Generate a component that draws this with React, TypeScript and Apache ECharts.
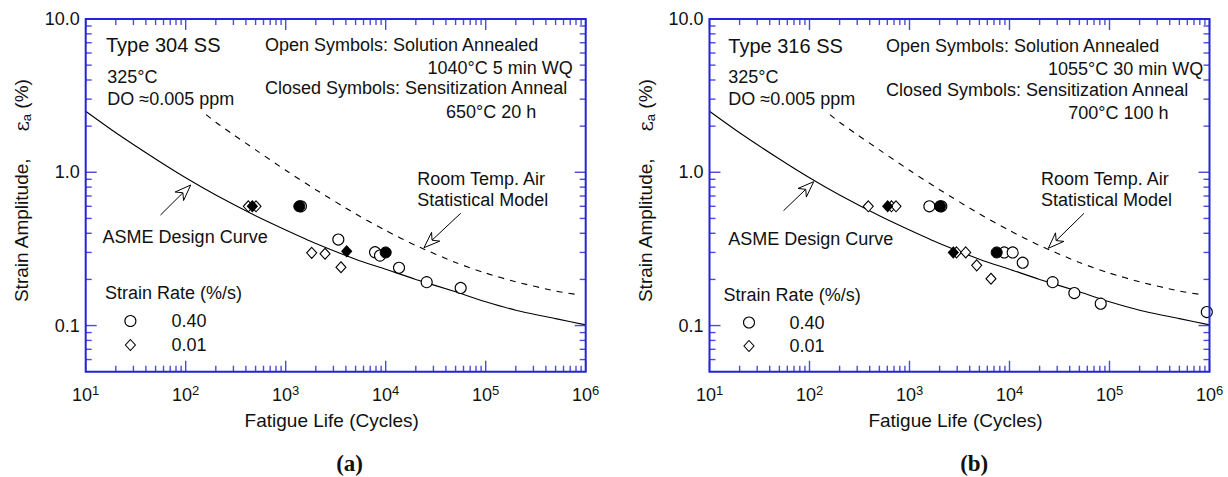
import React, { useEffect, useRef } from "react";
import * as echarts from "echarts";

// ---- Curves (both panels) ----
const asmeCycles = [10, 20, 50, 100, 200, 500, 1000, 2000, 5000, 10000, 20000, 50000, 100000, 200000, 500000, 1000000];
const asmeStrain = [2.5, 1.81, 1.22, 0.92, 0.71, 0.52, 0.42, 0.343, 0.271, 0.233, 0.2, 0.166, 0.143, 0.126, 0.111, 0.101];
const airCycles = [160, 200, 300, 500, 1000, 2000, 5000, 10000, 20000, 50000, 100000, 200000, 500000, 850000];
const airStrain = [2.38, 2.12, 1.76, 1.4, 1.03, 0.77, 0.535, 0.417, 0.333, 0.258, 0.22, 0.193, 0.168, 0.159];

// ---- Panel (a): Type 304 SS ----
const aOpenCircleCycles = [1420, 3360, 7820, 8770, 13590, 25700, 56200];
const aOpenCircleStrain = [0.6, 0.364, 0.301, 0.286, 0.238, 0.192, 0.176];
const aClosedCircleCycles = [1368, 10000];
const aClosedCircleStrain = [0.6, 0.3];
const aOpenDiamondCycles = [423, 505, 1820, 2474, 3570];
const aOpenDiamondStrain = [0.6, 0.6, 0.298, 0.294, 0.24];
const aClosedDiamondCycles = [464, 4074];
const aClosedDiamondStrain = [0.6, 0.305];

// ---- Panel (b): Type 316 SS ----
const bOpenCircleCycles = [1580, 2080, 8860, 10760, 13550, 27000, 44500, 81700, 940000];
const bOpenCircleStrain = [0.6, 0.6, 0.3, 0.3, 0.257, 0.192, 0.163, 0.139, 0.1225];
const bClosedCircleCycles = [2018, 7450];
const bClosedCircleStrain = [0.6, 0.3];
const bOpenDiamondCycles = [387, 660, 733, 2950, 3650, 4700, 6530];
const bOpenDiamondStrain = [0.6, 0.6, 0.6, 0.3, 0.3, 0.247, 0.202];
const bClosedDiamondCycles = [605, 2742];
const bClosedDiamondStrain = [0.6, 0.3];

// ---- Axis ticks / labels ----
const xDecades = [10, 100, 1000, 10000, 100000, 1000000];
const xDecadeExponents = ["1", "2", "3", "4", "5", "6"];
const yDecades = [0.1, 1, 10];
const yTickLabels = ["0.1", "1.0", "10.0"];
const minorDecadesX = [10, 100, 1000, 10000, 100000];
const minorDecadesY = [0.01, 0.1, 1];
const minorMultipliers = [2, 3, 4, 5, 6, 7, 8, 9];
const yMin = 0.05;
const yMax = 10;

const FONT = "'Liberation Sans', Arial, Helvetica, sans-serif";
const BOX_BLUE = "#2424d2";
const TICK_BLUE = "#4b4be0";
const INK = "#111";

const zip = (xs: number[], ys: number[]) => xs.map((x, i) => [x, ys[i]]);

const grids = [
  { left: 85.7, top: 19, width: 500, height: 352.7 },
  { left: 709.5, top: 19, width: 500, height: 352.7 },
];

function xAxis(gi: number) {
  return {
    type: "log",
    logBase: 10,
    gridIndex: gi,
    min: 10,
    max: 1000000,
    axisLine: { show: false },
    axisTick: { show: false },
    splitLine: { show: false },
    axisLabel: {
      margin: 12,
      hideOverlap: false,
      formatter: (v: number) => {
        const i = xDecades.findIndex((d) => Math.abs(v - d) / d < 1e-6);
        return i < 0 ? "" : `{b|10}{s|${xDecadeExponents[i]}}`;
      },
      rich: {
        b: { fontSize: 18, lineHeight: 22, fontFamily: FONT, color: INK },
        s: { fontSize: 13, lineHeight: 13, verticalAlign: "top", fontFamily: FONT, color: INK },
      },
    },
    name: "Fatigue Life (Cycles)",
    nameLocation: "middle",
    nameGap: 38,
    nameTextStyle: { fontSize: 19, fontFamily: FONT, color: INK, lineHeight: 22, padding: [0, 8, 0, 0] },
  };
}

function yAxis(gi: number) {
  return {
    type: "log",
    logBase: 10,
    gridIndex: gi,
    min: yMin,
    max: yMax,
    axisLine: { show: false },
    axisTick: { show: false },
    splitLine: { show: false },
    axisLabel: {
      margin: 6,
      fontSize: 18,
      fontFamily: FONT,
      color: INK,
      padding: [6, 0, 0, 0],
      formatter: (v: number) => {
        const i = yDecades.findIndex((d) => Math.abs(v - d) / d < 1e-6);
        return i < 0 ? "" : yTickLabels[i];
      },
    },
    name: "Strain Amplitude,     {e|ε}{sub|a} (%)",
    nameLocation: "middle",
    nameRotate: 90,
    nameGap: 53,
    nameTextStyle: {
      fontSize: 19,
      fontFamily: FONT,
      color: INK,
      lineHeight: 22,
      padding: [0, 0, 0, 9],
      rich: {
        e: { fontSize: 20, lineHeight: 22, fontFamily: "'DejaVu Serif', serif", color: INK },
        sub: { fontSize: 13, lineHeight: 13, verticalAlign: "bottom", fontFamily: FONT, color: INK },
      },
    },
  };
}

function panelSeries(gi: number, p: any) {
  const base = { xAxisIndex: gi, yAxisIndex: gi };
  return [
    {
      ...base,
      type: "line",
      name: "ASME Design Curve",
      data: zip(asmeCycles, asmeStrain),
      showSymbol: false,
      smooth: 0.25,
      lineStyle: { color: "#000", width: 1.1 },
      silent: true,
      z: 3,
    },
    {
      ...base,
      type: "line",
      name: "Room Temp. Air Statistical Model",
      data: zip(airCycles, airStrain),
      showSymbol: false,
      smooth: 0.25,
      lineStyle: { color: "#000", width: 1.1, type: [6, 6] },
      silent: true,
      z: 3,
    },
    {
      ...base,
      type: "scatter",
      name: "0.40 open",
      data: zip(p.oc[0], p.oc[1]),
      symbol: "circle",
      symbolSize: 11,
      itemStyle: { color: "#fff", borderColor: "#000", borderWidth: 1.1, opacity: 1 },
      z: 4,
    },
    {
      ...base,
      type: "scatter",
      name: "0.01 open",
      data: zip(p.od[0], p.od[1]),
      symbol: "diamond",
      symbolSize: [10, 11],
      itemStyle: { color: "#fff", borderColor: "#000", borderWidth: 1.1, opacity: 1 },
      z: 4,
    },
    {
      ...base,
      type: "scatter",
      name: "0.01 closed",
      data: zip(p.cd[0], p.cd[1]),
      symbol: "diamond",
      symbolSize: [10, 11],
      itemStyle: { color: "#000", borderColor: "#000", borderWidth: 1, opacity: 1 },
      z: 5,
    },
    {
      ...base,
      type: "scatter",
      name: "0.40 closed",
      data: zip(p.cc[0], p.cc[1]),
      symbol: "circle",
      symbolSize: 11,
      itemStyle: { color: "#000", borderColor: "#000", borderWidth: 1, opacity: 1 },
      z: 5,
    },
  ];
}

const panels = [
  {
    oc: [aOpenCircleCycles, aOpenCircleStrain],
    cc: [aClosedCircleCycles, aClosedCircleStrain],
    od: [aOpenDiamondCycles, aOpenDiamondStrain],
    cd: [aClosedDiamondCycles, aClosedDiamondStrain],
  },
  {
    oc: [bOpenCircleCycles, bOpenCircleStrain],
    cc: [bClosedCircleCycles, bClosedCircleStrain],
    od: [bOpenDiamondCycles, bOpenDiamondStrain],
    cd: [bClosedDiamondCycles, bClosedDiamondStrain],
  },
];

// annotation texts: [text, x, y, align, fontSize]
const annotationsA: [string, number, number, string, number][] = [
  ["Type 304 SS", 106, 45, "left", 20],
  ["Open Symbols: Solution Annealed", 265, 45, "left", 18],
  ["1040°C 5 min WQ", 572.7, 67.7, "right", 18],
  ["Closed Symbols: Sensitization Anneal", 265, 88.3, "left", 18],
  ["650°C 20 h", 446, 111.7, "left", 18],
  ["325°C", 107.3, 77.3, "left", 18],
  ["DO ≈0.005 ppm", 107.3, 99.3, "left", 18],
  ["Room Temp. Air", 417.3, 179.3, "left", 18],
  ["Statistical Model", 417.3, 200, "left", 18],
  ["ASME Design Curve", 102.6, 237.3, "left", 18],
  ["Strain Rate (%/s)", 105, 293, "left", 18],
  ["0.40", 171.5, 321, "left", 18],
  ["0.01", 171.5, 345, "left", 18],
];
const annotationsB: [string, number, number, string, number][] = [
  ["Type 316 SS", 728.3, 46, "left", 20],
  ["Open Symbols: Solution Annealed", 886, 46, "left", 18],
  ["1055°C 30 min WQ", 1203.3, 69, "right", 18],
  ["Closed Symbols: Sensitization Anneal", 886, 90, "left", 18],
  ["700°C 100 h", 1068.2, 113, "left", 18],
  ["325°C", 728.3, 77.3, "left", 18],
  ["DO ≈0.005 ppm", 728.3, 99.3, "left", 18],
  ["Room Temp. Air", 1041, 179.3, "left", 18],
  ["Statistical Model", 1041, 200, "left", 18],
  ["ASME Design Curve", 728.3, 239, "left", 18],
  ["Strain Rate (%/s)", 723.6, 295, "left", 18],
  ["0.40", 789.4, 322.5, "left", 18],
  ["0.01", 789.4, 346, "left", 18],
];
const legendSymbols = [
  { cx: 130.4, cy: 321, kind: "circle" },
  { cx: 130.4, cy: 345, kind: "diamond" },
  { cx: 749, cy: 322.5, kind: "circle" },
  { cx: 749, cy: 346, kind: "diamond" },
];
// arrows: tail -> tip
const arrows = [
  [160.5, 215, 190.7, 185],
  [460.7, 213.3, 424, 247.7],
  [783.5, 210.7, 813.7, 181.7],
  [1084, 213.3, 1048.3, 248.3],
];
const panelLabels: [string, number, number][] = [
  ["(a)", 349.6, 463],
  ["(b)", 974.2, 463],
];

function textEl(t: string, x: number, y: number, align: string, size = 18, family = FONT, weight = "normal") {
  return {
    type: "text",
    x,
    y,
    silent: true,
    style: {
      text: t,
      fill: INK,
      fontSize: size,
      fontFamily: family,
      fontWeight: weight,
      align,
      textAlign: align,
      verticalAlign: "middle",
      textVerticalAlign: "middle",
    },
    z: 10,
  };
}

function arrowEls(a: number[]) {
  const [tx, ty, hx, hy] = a;
  const dx = hx - tx;
  const dy = hy - ty;
  const L = Math.hypot(dx, dy);
  const ux = dx / L;
  const uy = dy / L;
  const nx = -uy;
  const ny = ux;
  const hl = 16;
  const hw = 6;
  const notch = 11;
  const b1 = [hx - hl * ux + hw * nx, hy - hl * uy + hw * ny];
  const b2 = [hx - hl * ux - hw * nx, hy - hl * uy - hw * ny];
  const nt = [hx - notch * ux, hy - notch * uy];
  return [
    {
      type: "line",
      silent: true,
      shape: { x1: tx, y1: ty, x2: nt[0], y2: nt[1] },
      style: { stroke: "#000", lineWidth: 1 },
      z: 10,
    },
    {
      type: "polygon",
      silent: true,
      shape: { points: [[hx, hy], b1, nt, b2] },
      style: { fill: "#fff", stroke: "#000", lineWidth: 1 },
      z: 10,
    },
  ];
}

function legendSymbolEl(s: { cx: number; cy: number; kind: string }) {
  if (s.kind === "circle") {
    return {
      type: "circle",
      silent: true,
      shape: { cx: s.cx, cy: s.cy, r: 5.5 },
      style: { fill: "#fff", stroke: "#000", lineWidth: 1.1 },
      z: 10,
    };
  }
  return {
    type: "polygon",
    silent: true,
    shape: {
      points: [
        [s.cx, s.cy - 5.5],
        [s.cx + 5, s.cy],
        [s.cx, s.cy + 5.5],
        [s.cx - 5, s.cy],
      ],
    },
    style: { fill: "#fff", stroke: "#000", lineWidth: 1.1 },
    z: 10,
  };
}

// frame + ticks, positions obtained from the chart's own log scales
function frameAndTicks(chart: any) {
  const els: any[] = [];
  const line = (x1: number, y1: number, x2: number, y2: number) => ({
    type: "line",
    silent: true,
    shape: { x1, y1, x2, y2 },
    style: { stroke: TICK_BLUE, lineWidth: 1.4 },
    z: 20,
  });
  grids.forEach((g, gi) => {
    const bottom = g.top + g.height;
    const right = g.left + g.width;
    const xt: [number, number][] = [];
    xDecades.forEach((v) => xt.push([v, 11]));
    minorDecadesX.forEach((d) => minorMultipliers.forEach((m) => xt.push([d * m, 6])));
    xt.forEach(([v, len]) => {
      const p = chart.convertToPixel({ gridIndex: gi }, [v, 1]);
      if (!p) return;
      els.push(line(p[0], bottom, p[0], bottom - len));
      els.push(line(p[0], g.top, p[0], g.top + len));
    });
    const yt: [number, number][] = [];
    yDecades.forEach((v) => yt.push([v, 11]));
    minorDecadesY.forEach((d) =>
      minorMultipliers.forEach((m) => {
        const v = d * m;
        if (v > yMin * 1.001 && v < yMax) yt.push([v, 6]);
      })
    );
    yt.forEach(([v, len]) => {
      const p = chart.convertToPixel({ gridIndex: gi }, [100, v]);
      if (!p) return;
      els.push(line(g.left, p[1], g.left + len, p[1]));
      els.push(line(right, p[1], right - len, p[1]));
    });
    els.push({
      type: "rect",
      silent: true,
      shape: { x: g.left, y: g.top, width: g.width, height: g.height },
      style: { fill: "none", stroke: BOX_BLUE, lineWidth: 2 },
      z: 21,
    });
  });
  return els;
}

function baseOption() {
  return {
    animation: false,
    backgroundColor: "#fff",
    grid: grids.map((g) => ({ ...g, containLabel: false })),
    xAxis: [xAxis(0), xAxis(1)],
    yAxis: [yAxis(0), yAxis(1)],
    series: [...panelSeries(0, panels[0]), ...panelSeries(1, panels[1])],
  };
}

function graphicElements(chart: any) {
  const graphic: any[] = [];
  annotationsA.concat(annotationsB).forEach(([t, x, y, a, s]) => graphic.push(textEl(t, x, y, a, s)));
  legendSymbols.forEach((s) => graphic.push(legendSymbolEl(s)));
  arrows.forEach((a) => graphic.push(...arrowEls(a)));
  panelLabels.forEach(([t, x, y]) =>
    graphic.push(textEl(t, x, y, "center", 23, "'Liberation Serif', 'Times New Roman', serif", "bold"))
  );
  graphic.push(...frameAndTicks(chart));
  return graphic;
}

export default function App() {
  const ref = useRef<HTMLDivElement>(null);
  useEffect(() => {
    if (!ref.current) return;
    const chart = echarts.init(ref.current, null, { renderer: "svg" });
    chart.setOption(baseOption() as any);
    chart.setOption({ graphic: { elements: graphicElements(chart) } } as any);
    return () => chart.dispose();
  }, []);
  return (
    <div
      ref={ref}
      style={{ position: "absolute", left: 0, top: 0, width: 1228, height: 477, background: "#fff" }}
    />
  );
}
